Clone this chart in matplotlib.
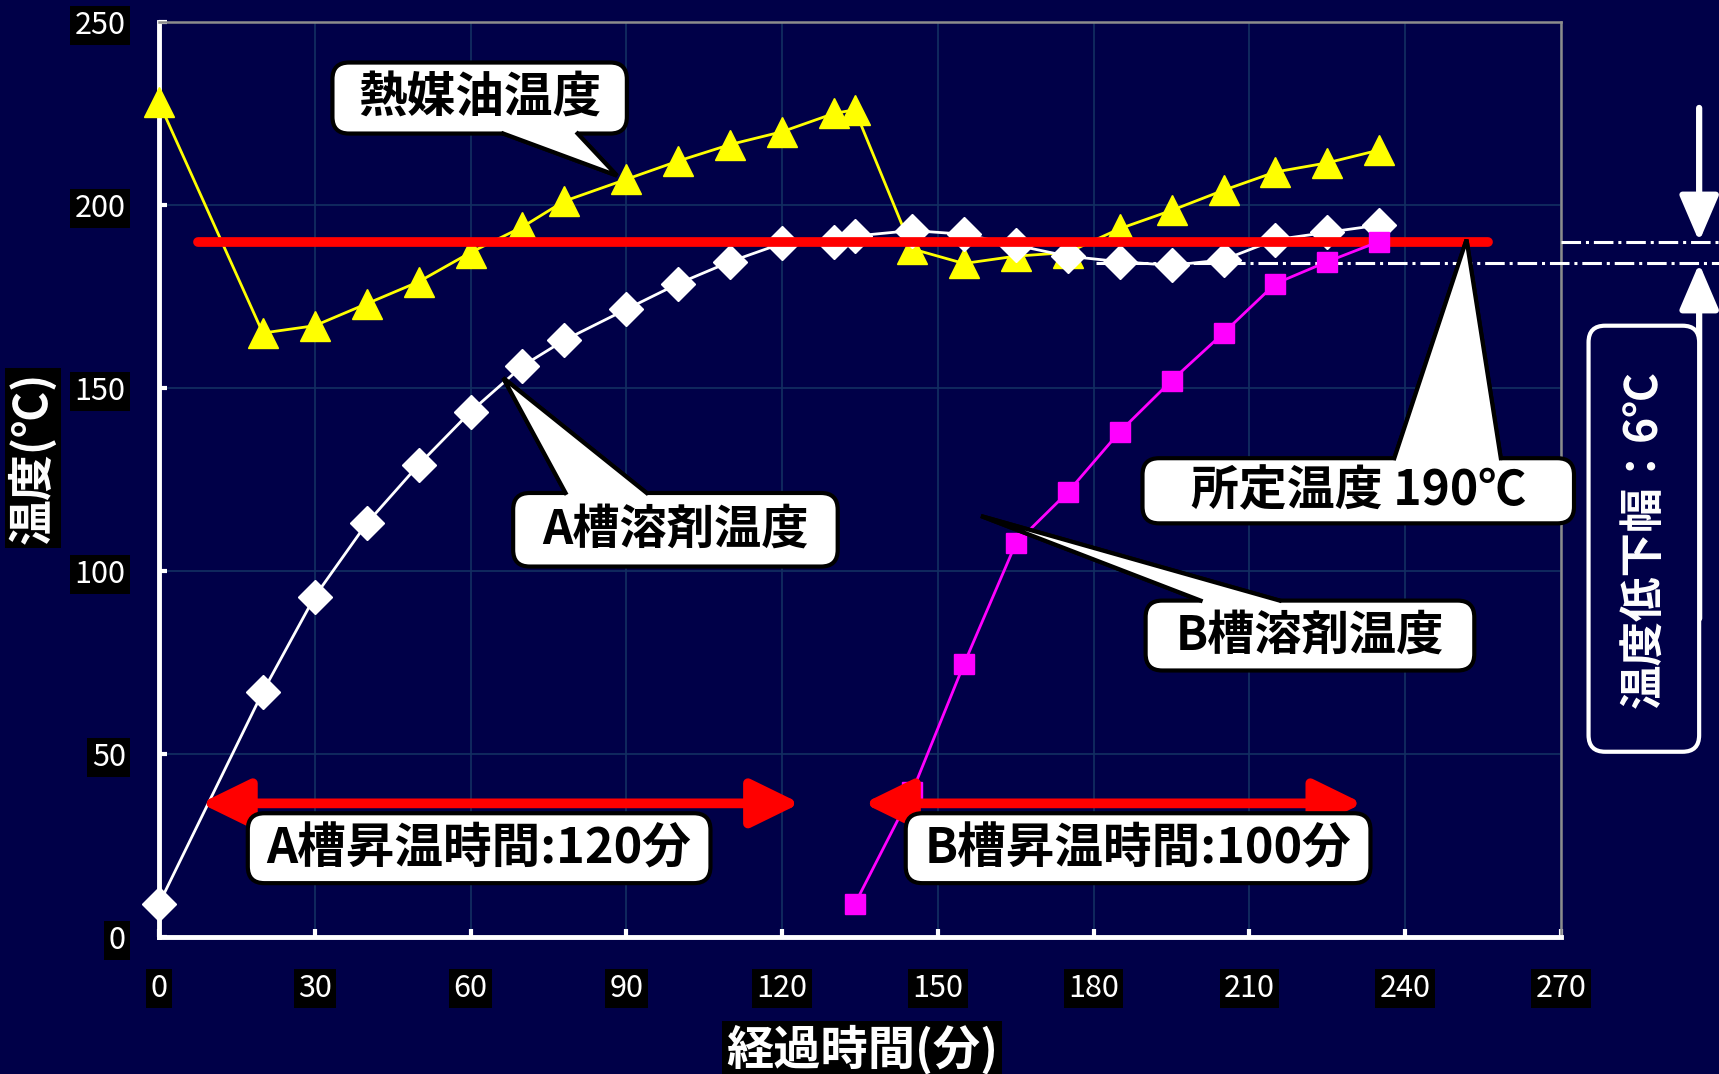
import numpy as np
import matplotlib
matplotlib.use("Agg")
import matplotlib.pyplot as plt
from matplotlib.patches import FancyBboxPatch, Polygon

plt.rcParams['font.family'] = ['Noto Sans CJK JP', 'DejaVu Sans']

# 熱媒油温度 (yellow, triangles)
t_oil = [0, 20, 30, 40, 50, 60, 70, 78, 90, 100, 110, 120, 130, 134,
         145, 155, 165, 175, 185, 195, 205, 215, 225, 235]
oil = [228, 165, 167, 173, 179, 187, 194, 201, 207, 212, 216.5, 220, 225, 226,
       188, 184, 186, 187, 193.5, 198.5, 204, 209, 211.5, 215]

# A槽溶剤温度 (white, diamonds)
t_a = [0, 20, 30, 40, 50, 60, 70, 78, 90, 100, 110, 120, 130, 134,
       145, 155, 165, 175, 185, 195, 205, 215, 225, 235]
tank_a = [9, 67, 93, 113, 129, 143.5, 156, 163, 171.5, 178.5, 184.5, 189.5, 190, 191.5,
          193, 192, 189, 186, 184.5, 183.5, 185, 190.5, 192.5, 194.5]

# B槽溶剤温度 (magenta, squares)
t_b = [134, 145, 155, 165, 175, 185, 195, 205, 215, 225, 235]
tank_b = [9, 39.5, 74.5, 107.5, 121.5, 138, 152, 165, 178.5, 184.5, 190]

target = 190        # 所定温度
low = 184           # 温度低下後
x_ticks = list(range(0, 271, 30))
y_ticks = list(range(0, 251, 50))

navy = '#000048'
fig = plt.figure(figsize=(17.19, 10.74), dpi=100, facecolor=navy)
ax = fig.add_axes([0.0925, 0.1276, 0.8156, 0.8520], facecolor=navy)
ax.set_xlim(0, 270)
ax.set_ylim(0, 250)
asp = (1402 / 270) / (915 / 250)   # px per x-unit / px per y-unit

ax.grid(True, color='#132f62', lw=1.2)
ax.set_axisbelow(True)
for s in ['left', 'bottom']:
    ax.spines[s].set_color('white')
    ax.spines[s].set_linewidth(3.5)
for s in ['top', 'right']:
    ax.spines[s].set_color('#8c8c8c')
    ax.spines[s].set_linewidth(1.8)

ax.set_xticks(x_ticks)
ax.set_yticks(y_ticks)
ax.tick_params(direction='in', length=6, width=3, color='white',
               labelcolor='white', labelsize=22)
ax.tick_params(axis='x', pad=26)
ax.tick_params(axis='y', pad=24)
for lbl in ax.get_xticklabels() + ax.get_yticklabels():
    lbl.set_bbox(dict(facecolor='black', edgecolor='none', pad=3))

ax.plot(t_oil, oil, color='yellow', lw=2, marker='^', ms=21,
        mfc='yellow', mec='yellow', zorder=4, clip_on=False)
ax.plot(t_a, tank_a, color='white', lw=2, marker='D', ms=17,
        mfc='white', mec='white', zorder=4, clip_on=False)
ax.plot([7.5, 256], [target, target], color='red', lw=7, solid_capstyle='round', zorder=5)
ax.plot(t_b, tank_b, color='magenta', lw=2, marker='s', ms=15,
        mfc='magenta', mec='magenta', zorder=6, clip_on=False)

# dash-dot reference lines and white arrows (outside plot)
ax.plot([270, 302], [target, target], color='white', lw=2.2, ls='-.', clip_on=False, zorder=3)
ax.plot([180.5, 302], [low, low], color='white', lw=2.2, ls='-.', clip_on=False, zorder=3)
ax.annotate('', xy=(296.6, target), xytext=(296.6, 226.5), annotation_clip=False,
            arrowprops=dict(arrowstyle='-|>,head_length=1.4,head_width=0.6', color='white',
                            lw=4.5, mutation_scale=20, shrinkA=0, shrinkB=0, capstyle='round'))
ax.annotate('', xy=(296.6, low), xytext=(296.6, 87), annotation_clip=False,
            arrowprops=dict(arrowstyle='-|>,head_length=1.4,head_width=0.6', color='white',
                            lw=4.5, mutation_scale=20, shrinkA=0, shrinkB=0, capstyle='round'))

# red double arrows
for x0, x1 in [(8, 123.5), (135.7, 231.8)]:
    ax.annotate('', xy=(x1, 36.5), xytext=(x0, 36.5), annotation_clip=False,
                arrowprops=dict(arrowstyle='<|-|>,head_length=1.35,head_width=0.66', color='red',
                                lw=7, mutation_scale=22, shrinkA=0, shrinkB=0),
                zorder=7)


def box(x0, x1, y0, y1, fc='white', ec='black', z=11):
    p = FancyBboxPatch((x0, y0), x1 - x0, y1 - y0,
                       boxstyle='round,pad=0,rounding_size=3.2', mutation_aspect=asp,
                       fc=fc, ec=ec, lw=3, zorder=z, clip_on=False)
    ax.add_patch(p)


def callout(x0, x1, y0, y1, b1, b2, tip, text, fs=34):
    by = b1[1]
    inside = -2.5 if tip[1] > by else 2.5
    ax.add_patch(Polygon([b1, tip, b2], closed=True, fc='white', ec='black', lw=3,
                         zorder=10, clip_on=False))
    box(x0, x1, y0, y1)
    ax.add_patch(Polygon([(b1[0], by + inside), b1, tip, b2, (b2[0], by + inside)],
                         closed=True, fc='white', ec='none', zorder=12, clip_on=False))
    ax.plot([b1[0], tip[0], b2[0]], [by, tip[1], by], color='black', lw=3,
            zorder=13, clip_on=False, solid_joinstyle='miter')
    ax.text((x0 + x1) / 2, (y0 + y1) / 2, text, ha='center', va='center',
            fontsize=fs, fontweight='bold', color='black', zorder=14)


callout(33.4, 90.1, 219.5, 238.9, (66.3, 219.5), (80.6, 219.5), (88.2, 208), '熱媒油温度', fs=35)
callout(68.2, 130.7, 101.2, 121.3, (78.3, 121.3), (93.9, 121.3), (66.3, 152.7), 'A槽溶剤温度')
callout(190, 253.3, 72.8, 91.9, (200.6, 91.9), (215.8, 91.9), (158.3, 115), 'B槽溶剤温度')
callout(189.4, 272.5, 113, 130.8, (237.9, 130.8), (258.4, 130.8), (251.8, 190.5),
        '所定温度 190℃', fs=34.5)

# heating time labels
box(17.1, 106.2, 14.7, 33.8, z=8)
ax.text(61.6, 24, 'A槽昇温時間:120分', ha='center', va='center', fontsize=35,
        fontweight='bold', color='black', zorder=9)
box(143.8, 233.3, 14.7, 33.8, z=8)
ax.text(188.5, 24, 'B槽昇温時間:100分', ha='center', va='center', fontsize=35,
        fontweight='bold', color='black', zorder=9)

# temperature drop label (right side)
box(275.3, 296.6, 50.6, 167, fc=navy, ec='white', z=9)
ax.text(286.0, 108.7, '温度低下幅：6℃', rotation=90, ha='center', va='center',
        fontsize=32, fontweight='bold', color='white', zorder=10, clip_on=False)

# axis labels
fig.text(0.0192, 0.5736, '温度(℃)', rotation=90, ha='center', va='center', fontsize=33,
         fontweight='bold', color='white',
         bbox=dict(facecolor='black', edgecolor='none', pad=3))
fig.text(0.5015, 0.0225, '経過時間(分)', ha='center', va='center', fontsize=34,
         fontweight='bold', color='white',
         bbox=dict(facecolor='black', edgecolor='none', pad=3))

fig.savefig('out.png', dpi=100, facecolor=navy)
